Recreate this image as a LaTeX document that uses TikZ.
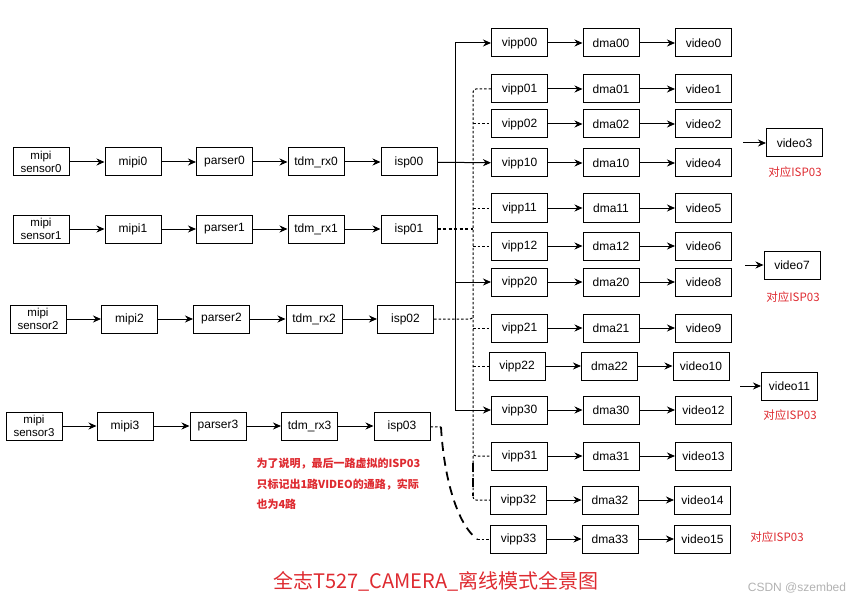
\documentclass[tikz,border=0pt]{standalone}
\usepackage{fontspec}
\setmainfont{Liberation Sans}
\newfontfamily\cjk{Noto Sans CJK SC}
\usepackage{xcolor}
\usetikzlibrary{arrows.meta,calc}
\definecolor{notered}{RGB}{222,42,48}

\begin{document}
\begin{tikzpicture}[x=1pt, y=-1pt, >={Stealth[length=8pt,width=7pt]},
  every node/.style={font=\fontsize{12}{14}\selectfont},
  box/.style={draw, line width=1pt, minimum width=\bw, minimum height=\bh, inner sep=1pt},
  sensor/.style={box, align=center, font=\fontsize{11.5}{13.5}\selectfont},
  link/.style={->, line width=1pt},
  dots/.style={line width=1pt, dash pattern=on 2.5pt off 2pt},
  bigdash/.style={line width=1.8pt, dash pattern=on 9pt off 6pt},
  note/.style={text=notered, font=\cjk\fontsize{11.5}{13}\selectfont}]
  \def\bw{56pt}
  \def\bh{28pt}
  \useasboundingbox (0,0) rectangle (864,604);

  % input chains
  \node[sensor] (sensor0) at (41,162) {mipi\\sensor0};
  \node[box] (mipi0)   at (133,162) {mipi0};
  \node[box] (parser0) at (224.5,162) {parser0};
  \node[box] (tdm0)    at (316,162) {tdm\_rx0};
  \node[box] (isp00)   at (409,162) {isp00};

  \node[sensor] (sensor1) at (41,229) {mipi\\sensor1};
  \node[box] (mipi1)   at (133,229) {mipi1};
  \node[box] (parser1) at (224.5,229) {parser1};
  \node[box] (tdm1)    at (316,229) {tdm\_rx1};
  \node[box] (isp01)   at (409,229) {isp01};

  \node[sensor] (sensor2) at (38,319) {mipi\\sensor2};
  \node[box] (mipi2)   at (129.5,319) {mipi2};
  \node[box] (parser2) at (221.5,319) {parser2};
  \node[box] (tdm2)    at (314,319) {tdm\_rx2};
  \node[box] (isp02)   at (405.5,319) {isp02};

  \node[sensor] (sensor3) at (34,426) {mipi\\sensor3};
  \node[box] (mipi3)   at (125,426) {mipi3};
  \node[box] (parser3) at (218,426) {parser3};
  \node[box] (tdm3)    at (309.5,426) {tdm\_rx3};
  \node[box] (isp03)   at (402,426) {isp03};

  \draw[link] (sensor0) -- (mipi0);
  \draw[link] (mipi0) -- (parser0);
  \draw[link] (parser0) -- (tdm0);
  \draw[link] (tdm0) -- (isp00);
  \draw[link] (sensor1) -- (mipi1);
  \draw[link] (mipi1) -- (parser1);
  \draw[link] (parser1) -- (tdm1);
  \draw[link] (tdm1) -- (isp01);
  \draw[link] (sensor2) -- (mipi2);
  \draw[link] (mipi2) -- (parser2);
  \draw[link] (parser2) -- (tdm2);
  \draw[link] (tdm2) -- (isp02);
  \draw[link] (sensor3) -- (mipi3);
  \draw[link] (mipi3) -- (parser3);
  \draw[link] (parser3) -- (tdm3);
  \draw[link] (tdm3) -- (isp03);

  % output chains
  \node[box] (vipp00) at (519.5,43)  {vipp00};
  \node[box] (dma00)  at (611,43)    {dma00};
  \node[box] (video0) at (703.5,43)  {video0};
  \node[box] (vipp01) at (519.5,89)  {vipp01};
  \node[box] (dma01)  at (611,89)    {dma01};
  \node[box] (video1) at (703.5,89)  {video1};
  \node[box] (vipp02) at (519.5,124) {vipp02};
  \node[box] (dma02)  at (611,124)   {dma02};
  \node[box] (video2) at (703.5,124) {video2};
  \node[box] (vipp10) at (519.5,163) {vipp10};
  \node[box] (dma10)  at (611,163)   {dma10};
  \node[box] (video4) at (703.5,163) {video4};
  \node[box] (vipp11) at (519.5,208) {vipp11};
  \node[box] (dma11)  at (611,208)   {dma11};
  \node[box] (video5) at (703.5,208) {video5};
  \node[box] (vipp12) at (519.5,246) {vipp12};
  \node[box] (dma12)  at (611,246)   {dma12};
  \node[box] (video6) at (703.5,246) {video6};
  \node[box] (vipp20) at (519.5,282) {vipp20};
  \node[box] (dma20)  at (611,282)   {dma20};
  \node[box] (video8) at (703.5,282) {video8};
  \node[box] (vipp21) at (519.5,328) {vipp21};
  \node[box] (dma21)  at (611,328)   {dma21};
  \node[box] (video9) at (703.5,328) {video9};
  \node[box] (vipp22) at (517,366)   {vipp22};
  \node[box] (dma22)  at (609.5,366) {dma22};
  \node[box] (video10) at (701,366)  {video10};
  \node[box] (vipp30) at (519.5,410) {vipp30};
  \node[box] (dma30)  at (611,410)   {dma30};
  \node[box] (video12) at (703.5,410) {video12};
  \node[box] (vipp31) at (519.5,456) {vipp31};
  \node[box] (dma31)  at (611,456)   {dma31};
  \node[box] (video13) at (703.5,456) {video13};
  \node[box] (vipp32) at (518.5,500) {vipp32};
  \node[box] (dma32)  at (610,500)   {dma32};
  \node[box] (video14) at (702.5,500) {video14};
  \node[box] (vipp33) at (518.5,539) {vipp33};
  \node[box] (dma33)  at (610,539)   {dma33};
  \node[box] (video15) at (702.5,539) {video15};

  \draw[link] (vipp00) -- (dma00);
  \draw[link] (dma00) -- (video0);
  \draw[link] (vipp01) -- (dma01);
  \draw[link] (dma01) -- (video1);
  \draw[link] (vipp02) -- (dma02);
  \draw[link] (dma02) -- (video2);
  \draw[link] (vipp10) -- (dma10);
  \draw[link] (dma10) -- (video4);
  \draw[link] (vipp11) -- (dma11);
  \draw[link] (dma11) -- (video5);
  \draw[link] (vipp12) -- (dma12);
  \draw[link] (dma12) -- (video6);
  \draw[link] (vipp20) -- (dma20);
  \draw[link] (dma20) -- (video8);
  \draw[link] (vipp21) -- (dma21);
  \draw[link] (dma21) -- (video9);
  \draw[link] (vipp22) -- (dma22);
  \draw[link] (dma22) -- (video10);
  \draw[link] (vipp30) -- (dma30);
  \draw[link] (dma30) -- (video12);
  \draw[link] (vipp31) -- (dma31);
  \draw[link] (dma31) -- (video13);
  \draw[link] (vipp32) -- (dma32);
  \draw[link] (dma32) -- (video14);
  \draw[link] (vipp33) -- (dma33);
  \draw[link] (dma33) -- (video15);

  % isp03 outputs, drawn apart
  \node[box] (video3)  at (794.5,143) {video3};
  \node[box] (video7)  at (792,265)   {video7};
  \node[box] (video11) at (789.5,386) {video11};
  \coordinate (in3)  at (743,143);
  \coordinate (in7)  at (745,265);
  \coordinate (in11) at (740,386);
  \draw[link] (in3) -- (video3);
  \draw[link] (in7) -- (video7);
  \draw[link] (in11) -- (video11);
  \node[note] (tag3)  at (795,172) {对应ISP03};
  \node[note] (tag7)  at (793,297) {对应ISP03};
  \node[note] (tag11) at (790,415) {对应ISP03};
  \node[note] (tag15) at (777,537) {对应ISP03};

  % isp00: solid bus
  \coordinate (busx) at (455,0);
  \draw[link] (isp00) -- (vipp10);
  \draw[link] (busx |- isp00.east) |- (vipp00);
  \draw[link] (busx |- isp00.east) |- (vipp20);
  \draw[link] (busx |- isp00.east) |- (vipp30);

  % isp01 / isp02: dotted bus
  \coordinate (dotx) at (473,0);
  \draw[dots, rounded corners=3pt] (vipp01.west) -| (dotx |- vipp31.west) -- (vipp31.west);
  \draw[dots] (dotx |- vipp02.west) -- (vipp02.west);
  \draw[dots] (dotx |- vipp11.west) -- (vipp11.west);
  \draw[dots] (dotx |- vipp12.west) -- (vipp12.west);
  \draw[dots] (dotx |- vipp21.west) -- (vipp21.west);
  \draw[dots] (dotx |- vipp22.west) -- (vipp22.west);
  \draw[dots, rounded corners=3pt] (dotx |- vipp31.west) |- (vipp32.west);
  \draw[line width=1.2pt, dash pattern=on 3pt off 2.5pt] (isp01) -- (dotx |- isp01.east);
  \draw[dots, rounded corners=3pt] (isp02) -| ($(dotx |- isp02.east)+(0,-4)$);

  % isp03: thick dashes
  \coordinate (turn3) at (441,427);
  \coordinate (bend3) at (477,539);
  \coordinate (top32) at (473,463);
  \draw[dots] (isp03) -- (turn3);
  \draw[bigdash] (turn3) .. controls (444,480) and (458,525) .. (bend3);
  \draw[dots] (bend3) -- (vipp33);
  \draw[bigdash] (top32) -- ($(top32)+(0,33)$);

  % notes
  \node[text=notered, font=\cjk\bfseries\fontsize{11}{20.5}\selectfont, align=left, anchor=north west] (remark)
        at (253,455) {为了说明，最后一路虚拟的ISP03\\只标记出1路VIDEO的通路，实际\\也为4路};
  \node[text=notered, font=\cjk\fontsize{20}{24}\selectfont] (title) at (436,581) {全志T527\_CAMERA\_离线模式全景图};
  \node[text=black!30, font=\fontsize{12}{14}\selectfont] (mark) at (797,588) {CSDN @szembed};
\end{tikzpicture}
\end{document}
